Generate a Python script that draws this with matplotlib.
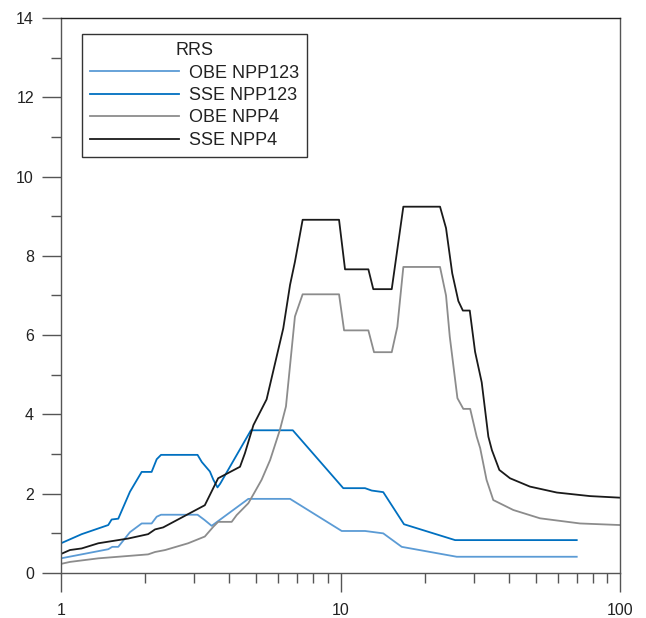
import numpy as np
import matplotlib
matplotlib.use("Agg")
import matplotlib.pyplot as plt
from matplotlib.ticker import LogLocator, MultipleLocator, FixedFormatter, FixedLocator

plt.rcParams['font.family'] = ['Liberation Sans', 'DejaVu Sans']

# SSE NPP123
sse123_f = [1.0, 1.186, 1.476, 1.518, 1.603, 1.765, 1.944, 2.11, 2.20, 2.28, 3.08,
            3.19, 3.41, 3.51, 3.63, 3.71, 4.78, 6.75, 10.23, 12.24, 12.93, 14.22,
            16.87, 25.7, 70.0]
sse123_v = [0.75, 0.98, 1.21, 1.35, 1.37, 2.05, 2.55, 2.55, 2.87, 2.98, 2.98,
            2.80, 2.56, 2.35, 2.16, 2.25, 3.60, 3.60, 2.14, 2.14, 2.08, 2.04,
            1.23, 0.83, 0.83]

# OBE NPP123
obe123_f = [1.0, 1.476, 1.526, 1.603, 1.765, 1.944, 2.11, 2.20, 2.28, 3.08, 3.26,
            3.46, 4.68, 6.60, 10.1, 12.24, 14.22, 16.56, 26.05, 70.0]
obe123_v = [0.37, 0.60, 0.66, 0.66, 1.03, 1.25, 1.25, 1.42, 1.47, 1.47, 1.34,
            1.19, 1.87, 1.87, 1.06, 1.06, 1.00, 0.66, 0.41, 0.41]

# OBE NPP4
obe4_f = [1.0, 1.077, 1.36, 2.05, 2.17, 2.36, 2.85, 3.27, 3.51, 3.65, 4.08, 4.25,
          4.68, 4.94, 5.22, 5.60, 6.07, 6.38, 6.87, 7.32, 9.88, 10.3, 12.58, 13.18,
          15.25, 15.97, 16.78, 22.7, 23.85, 24.6, 26.2, 27.5, 29.1, 30.7, 31.6,
          33.3, 35.2, 41.5, 51.7, 71.9, 100.0]
obe4_v = [0.23, 0.28, 0.37, 0.47, 0.53, 0.58, 0.75, 0.92, 1.17, 1.29, 1.29, 1.46,
          1.76, 2.05, 2.35, 2.85, 3.61, 4.20, 6.47, 7.03, 7.03, 6.12, 6.12, 5.57,
          5.57, 6.21, 7.72, 7.72, 7.00, 5.96, 4.41, 4.14, 4.14, 3.44, 3.15,
          2.35, 1.84, 1.59, 1.38, 1.25, 1.21]

# SSE NPP4
sse4_f = [1.0, 1.077, 1.186, 1.36, 1.74, 2.05, 2.17, 2.32, 3.27, 3.65, 4.37, 4.55,
          4.88, 5.44, 6.24, 6.60, 6.87, 7.32, 9.88, 10.38, 12.58, 13.1, 15.25,
          16.78, 22.7, 23.85, 25.1, 26.4, 27.4, 29.0, 30.3, 32.0, 33.8, 34.8,
          37.0, 40.4, 47.6, 59.4, 78.1, 100.0]
sse4_v = [0.48, 0.58, 0.62, 0.75, 0.87, 0.98, 1.10, 1.15, 1.71, 2.39, 2.68, 3.02,
          3.73, 4.38, 6.17, 7.27, 7.85, 8.91, 8.91, 7.66, 7.66, 7.16, 7.16,
          9.24, 9.24, 8.70, 7.56, 6.86, 6.62, 6.62, 5.58, 4.81, 3.44, 3.10,
          2.60, 2.39, 2.18, 2.03, 1.94, 1.90]

fig = plt.figure(figsize=(6.46, 6.18), dpi=100)
ax = fig.add_axes([0.0944, 0.0728, 0.8654, 0.8981])

ax.plot(obe123_f, obe123_v, color='#5b9bd5', lw=1.3, label='OBE NPP123')
ax.plot(sse123_f, sse123_v, color='#0070c0', lw=1.3, label='SSE NPP123')
ax.plot(obe4_f, obe4_v, color='#8c8c8c', lw=1.3, label='OBE NPP4')
ax.plot(sse4_f, sse4_v, color='#1a1a1a', lw=1.3, label='SSE NPP4')

ax.set_xscale('log')
ax.set_xlim(1, 100)
ax.set_ylim(0, 14)

ax.xaxis.set_major_locator(FixedLocator([1, 10, 100]))
ax.xaxis.set_major_formatter(FixedFormatter(['1', '10', '100']))
ax.xaxis.set_minor_locator(LogLocator(base=10, subs=np.arange(2, 10)))
ax.xaxis.set_minor_formatter(FixedFormatter([]))
ax.yaxis.set_major_locator(MultipleLocator(2))
ax.yaxis.set_minor_locator(MultipleLocator(1))

for s in ['left', 'right', 'bottom']:
    ax.spines[s].set_color('#555555')
ax.spines['top'].set_color('#222222')
for s in ax.spines.values():
    s.set_linewidth(1.0)

ax.tick_params(axis='both', which='major', length=13.5, width=1.0, color='#555555',
               labelsize=11.5, labelcolor='#222222')
ax.tick_params(axis='both', which='minor', length=7.5, width=1.0, color='#555555')
ax.tick_params(axis='x', which='major', pad=8)
ax.tick_params(axis='y', which='major', pad=6)

leg = ax.legend(title='RRS', loc='upper left', bbox_to_anchor=(0.0376, 0.971),
                borderaxespad=0, fontsize=13, title_fontsize=13, handlelength=4.9,
                handletextpad=0.55, labelspacing=0.3, fancybox=False, framealpha=1,
                edgecolor='#333333', borderpad=0.45)
leg.get_frame().set_linewidth(1.0)
for t in leg.get_texts():
    t.set_color('#222222')
leg.get_title().set_color('#222222')

fig.savefig('out.png', dpi=100)
